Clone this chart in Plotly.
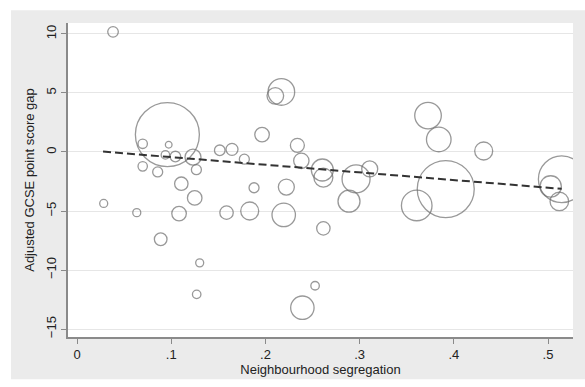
import plotly.graph_objects as go

# Neighbourhood segregation (x), adjusted GCSE point score gap (y), weight (bubble size)
seg = [0.0382, 0.0959, 0.0697, 0.0973, 0.0938, 0.1044, 0.1231, 0.0697, 0.0856, 0.1267,
       0.1515, 0.1645, 0.1107, 0.0283, 0.0634, 0.1249, 0.1083, 0.1587, 0.0888, 0.1302,
       0.1270, 0.1964, 0.1879, 0.1833, 0.1776, 0.2169, 0.2105, 0.2339, 0.2381, 0.2604,
       0.2615, 0.2222, 0.2194, 0.2615, 0.2887, 0.2962, 0.3107, 0.2527, 0.2392, 0.3726,
       0.3840, 0.4317, 0.3914, 0.3606, 0.5145, 0.5028, 0.5120]
gap = [10.17, 1.47, 0.69, 0.61, -0.25, -0.39, -0.44, -1.22, -1.69, -1.50,
       0.14, 0.22, -2.69, -4.36, -5.14, -3.89, -5.22, -5.14, -7.39, -9.39,
       -12.06, 1.47, -3.03, -5.00, -0.61, 5.08, 4.75, 0.56, -0.75, -1.53,
       -2.17, -2.97, -5.33, -6.47, -4.17, -2.28, -1.44, -11.33, -13.19, 3.08,
       1.06, 0.08, -3.14, -4.53, -2.31, -2.92, -4.19]
weight = [28, 1024, 22, 11, 18, 28, 64, 22, 25, 25,
          28, 36, 45, 16, 16, 53, 53, 45, 40, 16,
          18, 53, 25, 81, 25, 177, 69, 49, 59, 121,
          90, 64, 137, 45, 121, 196, 64, 18, 137, 177,
          151, 81, 812, 234, 543, 114, 86]

# Fitted (weighted) regression line end points
fit_x = [0.0276, 0.5145]
fit_y = [0.03, -3.12]

xtick_vals = [0, 0.1, 0.2, 0.3, 0.4, 0.5]
xtick_text = ["0", ".1", ".2", ".3", ".4", ".5"]
ytick_vals = [10, 5, 0, -5, -10, -15]
ytick_text = ["10", "5", "0", "\u22125", "\u221210", "\u221215"]

FONT = "Liberation Sans, Arial, sans-serif"
AXIS_COL = "#8a8a8a"

fig = go.Figure()
fig.add_trace(go.Scatter(
    x=seg, y=gap, mode="markers",
    marker=dict(size=weight, sizemode="area", sizeref=0.5,
                color="rgba(0,0,0,0)",
                line=dict(color="#6e6e6e", width=1.3)),
    showlegend=False, hoverinfo="skip"))
fig.add_trace(go.Scatter(
    x=fit_x, y=fit_y, mode="lines",
    line=dict(color="#333333", width=2, dash="8px,4px"),
    showlegend=False, hoverinfo="skip"))

fig.update_layout(
    width=585, height=387,
    margin=dict(l=68, r=12, t=23, b=45),
    paper_bgcolor="white", plot_bgcolor="white",
    font=dict(family=FONT, size=13, color="#222222"),
    shapes=[
        dict(type="rect", xref="paper", yref="paper", x0=-0.1129, x1=1.1,
             y0=-0.1348, y1=1.0408, fillcolor="#ebebeb", line=dict(width=0), layer="below"),
        dict(type="rect", xref="paper", yref="paper", x0=0, x1=1,
             y0=0, y1=1, fillcolor="white", line=dict(width=0), layer="below"),
    ],
    xaxis=dict(
        range=[-0.0096, 0.5265], tickvals=xtick_vals, ticktext=xtick_text,
        showgrid=False, zeroline=False, showline=True, linecolor=AXIS_COL, linewidth=1.5,
        ticks="outside", ticklen=5, tickcolor=AXIS_COL, tickwidth=1.2,
        title=dict(text="Neighbourhood segregation", standoff=4,
                   font=dict(family=FONT, size=13, color="#222222")),
    ),
    yaxis=dict(
        range=[-15.67, 10.92], tickvals=ytick_vals, ticktext=ytick_text,
        tickangle=-90,
        showgrid=True, gridcolor="#e6e6e6", gridwidth=1, zeroline=False,
        showline=True, linecolor=AXIS_COL, linewidth=1.5,
        ticks="outside", ticklen=5, tickcolor=AXIS_COL, tickwidth=1.2,
        title=dict(text="Adjusted GCSE point score gap", standoff=6,
                   font=dict(family=FONT, size=13, color="#222222")),
    ),
)

fig.write_html("out.html")
